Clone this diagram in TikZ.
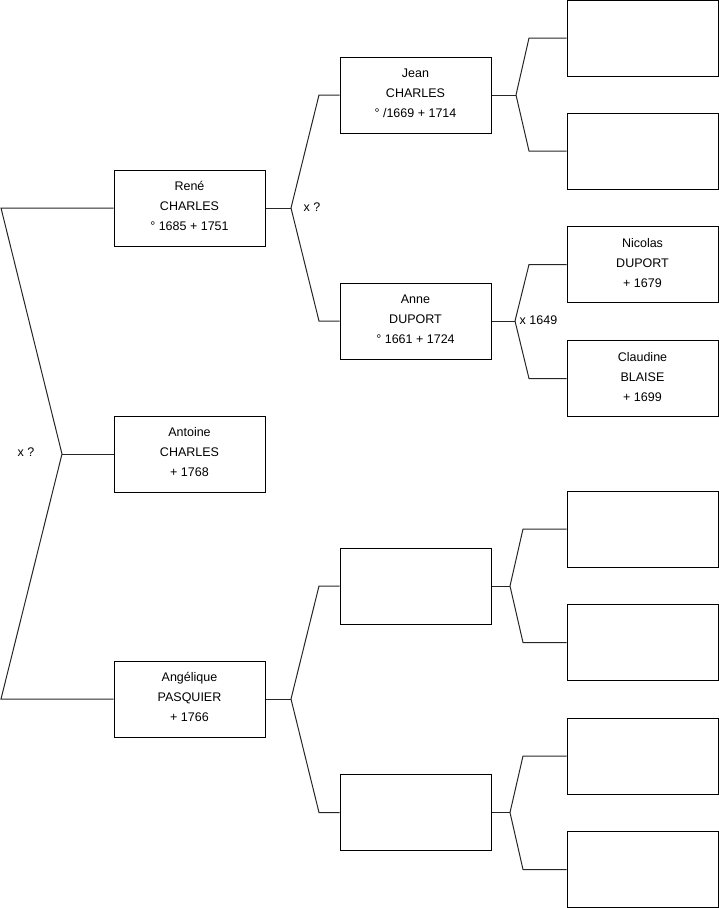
\documentclass[tikz,border=0pt]{standalone}
\usepackage{fontspec}
\setmainfont{Liberation Sans}
\begin{document}
\begin{tikzpicture}[x=1pt,y=-1pt,
  person/.style={draw=black,line width=1pt,minimum width=151pt,minimum height=76pt,inner sep=0pt,align=center,text depth=4pt,font=\fontsize{12.5pt}{20pt}\selectfont},
  link/.style={draw=black!85,line width=1pt},
  lbl/.style={font=\fontsize{12.5pt}{14pt}\selectfont,inner sep=0pt}]
\useasboundingbox (0,0) rectangle (719,908);
% column 1
\node[person] (rene) at (189.5,208) {René\\CHARLES\\° 1685 + 1751};
\node[person] (antoine) at (189.5,454) {Antoine\\CHARLES\\+ 1768};
\node[person] (angelique) at (189.5,699) {Angélique\\PASQUIER\\+ 1766};
% column 2
\node[person] (jean) at (415.5,95) {Jean\\CHARLES\\° /1669 + 1714};
\node[person] (anne) at (415.5,321) {Anne\\DUPORT\\° 1661 + 1724};
\node[person] (p2c) at (415.5,586) {};
\node[person] (p2d) at (415.5,812.5) {};
% column 3
\node[person] (p3a) at (642.5,38) {};
\node[person] (p3b) at (642.5,151) {};
\node[person] (nicolas) at (642.5,264.5) {Nicolas\\DUPORT\\+ 1679};
\node[person] (claudine) at (642.5,378.5) {Claudine\\BLAISE\\+ 1699};
\node[person] (p3e) at (642.5,529) {};
\node[person] (p3f) at (642.5,642.5) {};
\node[person] (p3g) at (642.5,756) {};
\node[person] (p3h) at (642.5,869.5) {};
% coordinates
\coordinate (l1) at (1,208);
\coordinate (l2) at (1,699);
\coordinate (v0) at (62,454);
\coordinate (v1) at (291,208);
\coordinate (v1a) at (319,95);
\coordinate (v1b) at (319,321);
\coordinate (v2) at (291,699);
\coordinate (v2a) at (319,586);
\coordinate (v2b) at (319,812.5);
\coordinate (v3) at (516,95);
\coordinate (v3a) at (529,38);
\coordinate (v3b) at (529,151);
\coordinate (v4) at (515,321);
\coordinate (v4a) at (529,264.5);
\coordinate (v4b) at (529,378.5);
\coordinate (v5) at (510,586);
\coordinate (v5a) at (523,529);
\coordinate (v5b) at (523,642.5);
\coordinate (v6) at (510,812.5);
\coordinate (v6a) at (523,756);
\coordinate (v6b) at (523,869.5);
% connectors
\draw[link] (rene.west) -- (l1) -- (v0) -- (l2) -- (angelique.west);
\draw[link] (v0) -- (antoine.west);
\draw[link] (rene.east) -- (v1);
\draw[link] (v1) -- (v1a) -- (jean.west);
\draw[link] (v1) -- (v1b) -- (anne.west);
\draw[link] (angelique.east) -- (v2);
\draw[link] (v2) -- (v2a) -- (p2c.west);
\draw[link] (v2) -- (v2b) -- (p2d.west);
\draw[link] (jean.east) -- (v3);
\draw[link] (v3) -- (v3a) -- (p3a.west);
\draw[link] (v3) -- (v3b) -- (p3b.west);
\draw[link] (anne.east) -- (v4);
\draw[link] (v4) -- (v4a) -- (nicolas.west);
\draw[link] (v4) -- (v4b) -- (claudine.west);
\draw[link] (p2c.east) -- (v5);
\draw[link] (v5) -- (v5a) -- (p3e.west);
\draw[link] (v5) -- (v5b) -- (p3f.west);
\draw[link] (p2d.east) -- (v6);
\draw[link] (v6) -- (v6a) -- (p3g.west);
\draw[link] (v6) -- (v6b) -- (p3h.west);
% labels
\node[lbl] (m0) at (26,452) {x ?};
\node[lbl] (m1) at (312,207) {x ?};
\node[lbl,anchor=west] (m2) at (519.5,320) {x 1649};
\end{tikzpicture}
\end{document}
